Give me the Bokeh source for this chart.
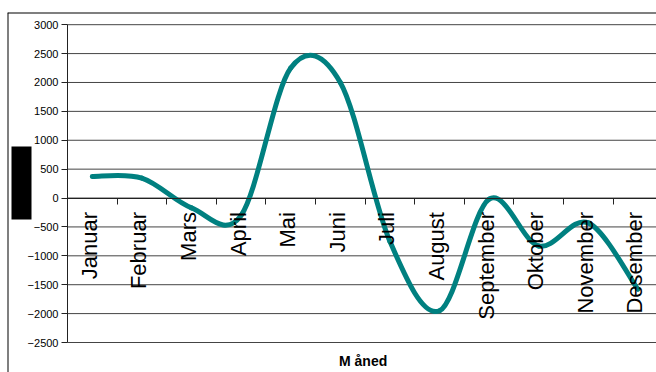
import numpy as np
from bokeh.plotting import figure
from bokeh.models import FixedTicker, Range1d
from bokeh.core.properties import value
from bokeh.embed import file_html
from bokeh.resources import INLINE

# ---- data ----
months = ["Januar", "Februar", "Mars", "April", "Mai", "Juni",
          "Juli", "August", "September", "Oktober", "November", "Desember"]
values = [375, 345, -170, -300, 2250, 2000, -750, -1950, -20, -830, -430, -1580]
y_ticks = [-2500, -2000, -1500, -1000, -500, 0, 500, 1000, 1500, 2000, 2500, 3000]
x_title = "M åned"

FONT = "Liberation Sans"

# ---- layout constants (pixels) ----
W, H = 656, 372
FRAME_LEFT, FRAME_TOP = 7, 12          # chart-area border
PLOT_LEFT, PLOT_TOP, PLOT_BOTTOM = 67, 24.2, 342
PX_PER_CAT = 49.6
UNITS_PER_PX = (y_ticks[-1] - y_ticks[0]) / (PLOT_BOTTOM - PLOT_TOP)

x_start = -(PLOT_LEFT - FRAME_LEFT) / PX_PER_CAT
x_end = (W - PLOT_LEFT) / PX_PER_CAT
y_start = y_ticks[0] - (H - PLOT_BOTTOM) * UNITS_PER_PX
y_end = y_ticks[-1] + (PLOT_TOP - FRAME_TOP) * UNITS_PER_PX

def px_x(px):
    return (px - PLOT_LEFT) / PX_PER_CAT

def px_y(py):
    return y_ticks[-1] - (py - PLOT_TOP) * UNITS_PER_PX

# category centres (between tick marks)
n = len(months)
x = np.arange(n) + 0.5
y = np.array(values, dtype=float)

# smooth line: Catmull-Rom style Bezier control points derived from the data
xp = np.concatenate([[x[0]], x, [x[-1]]])
yp = np.concatenate([[y[0]], y, [y[-1]]])
x0, y0 = xp[1:-2], yp[1:-2]
x1, y1 = xp[2:-1], yp[2:-1]
cx0 = x0 + (xp[2:-1] - xp[0:-3]) / 6.0
cy0 = y0 + (yp[2:-1] - yp[0:-3]) / 6.0
cx1 = x1 - (xp[3:] - xp[1:-2]) / 6.0
cy1 = y1 - (yp[3:] - yp[1:-2]) / 6.0

p = figure(width=W, height=H,
           x_range=Range1d(x_start, x_end), y_range=Range1d(y_start, y_end),
           output_backend="svg", toolbar_location=None,
           min_border_left=FRAME_LEFT, min_border_right=0,
           min_border_top=FRAME_TOP, min_border_bottom=0)
p.outline_line_color = None
p.background_fill_color = "white"
p.border_fill_color = "white"
p.xgrid.visible = False
p.ygrid.visible = False

# gridlines across the plot area only
p.segment(x0=np.zeros(len(y_ticks)), x1=np.full(len(y_ticks), n), y0=y_ticks, y1=y_ticks,
          line_color="#444444", line_width=1)

# y axis (at x = 0)
p.yaxis.fixed_location = 0
p.yaxis.bounds = (y_ticks[0], y_ticks[-1])
p.yaxis.ticker = FixedTicker(ticks=y_ticks)
p.yaxis.axis_line_color = "#222222"
p.yaxis.major_tick_line_color = "#222222"
p.yaxis.major_tick_out = 6
p.yaxis.major_tick_in = 0
p.yaxis.minor_tick_line_color = None
p.yaxis.major_label_standoff = 3
p.yaxis.major_label_text_font = FONT
p.yaxis.major_label_text_font_size = "11px"
p.yaxis.major_label_text_color = "black"

# x axis at zero
p.xaxis.fixed_location = 0
p.xaxis.bounds = (0, n)
p.xaxis.ticker = FixedTicker(ticks=list(range(n + 1)))
p.xaxis.axis_line_color = "#222222"
p.xaxis.major_tick_line_color = "#222222"
p.xaxis.major_tick_out = 6
p.xaxis.major_tick_in = 0
p.xaxis.minor_tick_line_color = None
p.xaxis.major_label_text_color = None
p.xaxis.major_label_text_font_size = "0px"

# line
p.bezier(x0=x0, y0=y0, x1=x1, y1=y1, cx0=cx0, cy0=cy0, cx1=cx1, cy1=cy1,
         line_color="#008080", line_width=5, line_cap="round")

# category labels, rotated, hanging below the zero line
p.text(x=x, y=np.zeros(n), text=months, angle=np.pi / 2,
       text_align="right", text_baseline="middle", x_offset=-3, y_offset=14,
       text_font=value(FONT), text_font_size="22px", text_color="black")

# x axis title
p.text(x=[n / 2], y=[y_ticks[0]], text=[x_title], x_offset=-2, y_offset=18,
       text_align="center", text_baseline="middle",
       text_font=value(FONT), text_font_size="14px", text_font_style="bold",
       text_color="black")

# redacted y-axis title block
p.quad(left=[px_x(11)], right=[px_x(31)], top=[px_y(146)], bottom=[px_y(219)],
       fill_color="black", line_color=None)

# chart area border (top and left edges)
p.segment(x0=[x_start, x_start], y0=[y_end, y_end], x1=[x_end, x_start], y1=[y_end, y_start],
          line_color="black", line_width=2)

open("out.html", "w").write(file_html(p, INLINE))
